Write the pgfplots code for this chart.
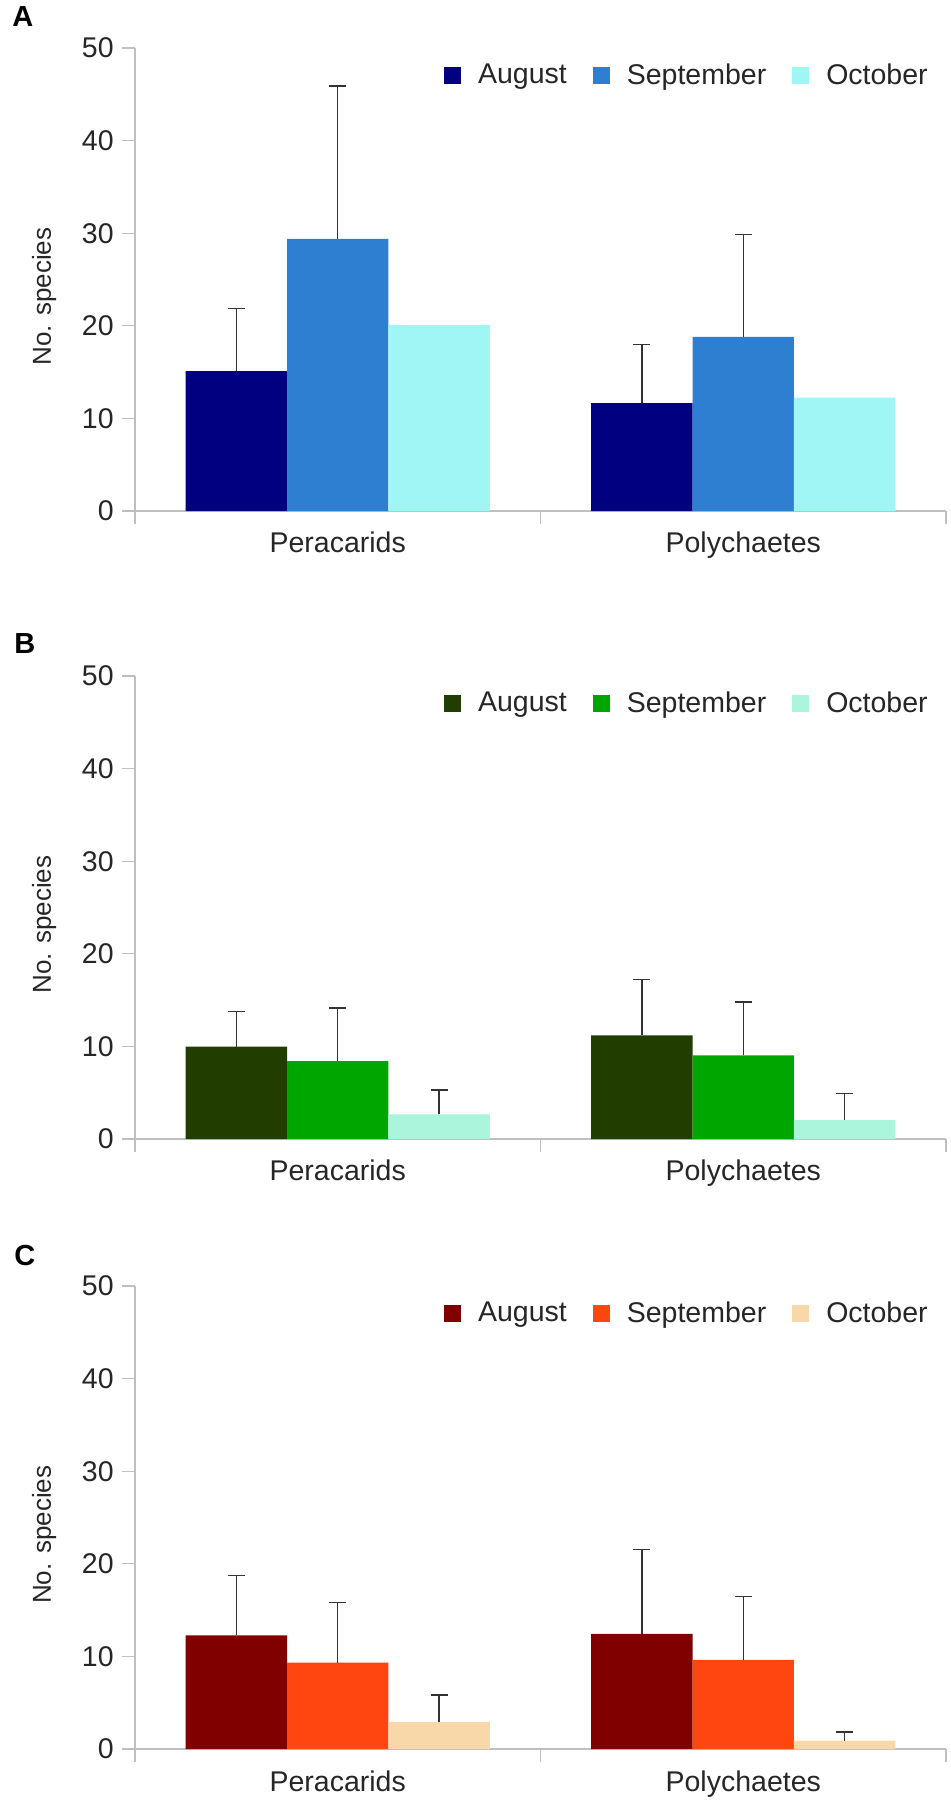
\documentclass[border=0pt]{standalone}
\usepackage{pgfplots}
\pgfplotsset{compat=1.18}
\usepackage{pgfplotstable}
\usepackage{fontspec}
\setmainfont{Liberation Sans}
\definecolor{axgray}{HTML}{BFBFBF}
\definecolor{txt}{HTML}{262626}
\definecolor{errc}{HTML}{333333}
\definecolor{aA}{HTML}{000080}
\definecolor{aS}{HTML}{2E7ED2}
\definecolor{aO}{HTML}{A0F5F5}
\definecolor{bA}{HTML}{213D00}
\definecolor{bS}{HTML}{00A600}
\definecolor{bO}{HTML}{AAF5DC}
\definecolor{cA}{HTML}{800000}
\definecolor{cS}{HTML}{FF4510}
\definecolor{cO}{HTML}{F8D8A8}

\pgfplotstableread{
x aug eaug sep esep oct eoct
0 15.1 6.8 29.4 16.5 20.1 0
1 11.65 6.35 18.8 11.05 12.25 0
}\dataA
\pgfplotstableread{
x aug eaug sep esep oct eoct
0 9.97 3.83 8.42 5.73 2.66 2.63
1 11.2 6.05 9.04 5.76 2.05 2.88
}\dataB
\pgfplotstableread{
x aug eaug sep esep oct eoct
0 12.28 6.49 9.33 6.49 2.92 2.92
1 12.43 9.15 9.62 6.84 0.9 0.94
}\dataC

\newcommand{\tfont}{\fontsize{11.4}{13}\selectfont}
\pgfplotsset{
  panel/.style={
    scale only axis, width=324.4pt, height=185.2pt,
    anchor=south west,
    xmin=-0.5, xmax=1.5, ymin=0, ymax=50,
    axis lines=left,
    axis line style={draw=axgray, line width=0.5pt, -},
    ytick={0,10,...,50},
    xtick={-0.5,0.5,1.5}, xticklabels={},
    extra x ticks={0,1},
    extra x tick labels={Peracarids,Polychaetes},
    extra x tick style={xtick style={draw=none}},
    tick align=outside, major tick length=5pt,
    tick style={draw=axgray, line width=0.5pt},
    /pgf/number format/assume math mode=true,
    ticklabel style={font=\tfont, text=txt},
    ybar=0pt, bar width=0.25,
    ylabel={No. species},
    ylabel style={font=\fontsize{10.4}{12}\selectfont, text=txt,
      at={(axis description cs:-0.112,0.463)}, anchor=center},
    legend columns=3,
    legend image code/.code={\fill[##1,draw=none] (0pt,-3.4pt) rectangle (6.8pt,3.4pt);},
    legend style={at={(axis description cs:0.978,0.94)}, anchor=east,
      draw=none, fill=none, inner sep=0pt,
      nodes={inner sep=0pt, text=txt, font=\tfont},
      /tikz/every odd column/.append style={column sep=6.8pt},
      /tikz/every even column/.append style={column sep=10.4pt}},
    every axis plot/.append style={draw=none},
  },
  eb/.style={error bars/.cd, y dir=plus, y explicit,
    error bar style={draw=errc, line width=0.55pt},
    error mark=-,
    error mark options={draw=errc, line width=0.55pt, mark size=3.4pt, rotate=90}},
}

\begin{document}
\begin{tikzpicture}
\useasboundingbox (0,0) rectangle (380pt,-722pt);
\tikzset{lett/.style={anchor=base west, font=\bfseries\fontsize{11.6}{13}\selectfont, text=black}}
\node[lett] at (1.4pt,-10.7pt) {A};
\node[lett] at (2.2pt,-261.3pt) {B};
\node[lett] at (2.2pt,-506pt) {C};

% Panel A
\begin{axis}[panel, at={(54pt,-204.4pt)}]
\addplot[fill=aA, eb] table[x=x, y=aug, y error=eaug] {\dataA};
\addplot[fill=aS, eb] table[x=x, y=sep, y error=esep] {\dataA};
\addplot[fill=aO] table[x=x, y=oct] {\dataA};
\legend{August,September,October}
\end{axis}

% Panel B
\begin{axis}[panel, at={(54pt,-455.6pt)}]
\addplot[fill=bA, eb] table[x=x, y=aug, y error=eaug] {\dataB};
\addplot[fill=bS, eb] table[x=x, y=sep, y error=esep] {\dataB};
\addplot[fill=bO, eb] table[x=x, y=oct, y error=eoct] {\dataB};
\legend{August,September,October}
\end{axis}

% Panel C
\begin{axis}[panel, at={(54pt,-699.6pt)}]
\addplot[fill=cA, eb] table[x=x, y=aug, y error=eaug] {\dataC};
\addplot[fill=cS, eb] table[x=x, y=sep, y error=esep] {\dataC};
\addplot[fill=cO, eb] table[x=x, y=oct, y error=eoct] {\dataC};
\legend{August,September,October}
\end{axis}
\end{tikzpicture}
\end{document}
